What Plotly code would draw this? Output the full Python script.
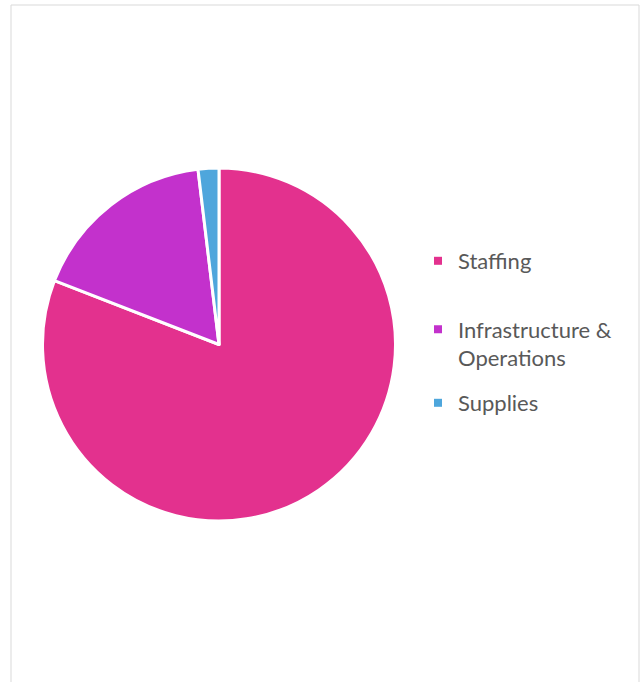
import plotly.graph_objects as go

labels = ["Staffing", "Infrastructure &<br>Operations", "Supplies"]
values = [80.9, 17.2, 1.9]
colors = ["#E3318E", "#C331CC", "#4EA6DC"]

W, H = 641, 682

fig = go.Figure()
fig.add_trace(go.Pie(
    labels=labels,
    values=values,
    marker=dict(colors=colors, line=dict(color="white", width=3)),
    sort=False,
    direction="clockwise",
    rotation=0,
    textinfo="none",
    hoverinfo="label+percent",
    showlegend=False,
    domain=dict(x=[42 / W, 396 / W], y=[1 - 521 / H, 1 - 168 / H]),
))

# legend entries (one legend per category so spacing can match the original)
legend_keys = ["legend", "legend2", "legend3"]
legend_y = [261, 344, 403]
for lab, col, lk in zip(labels, colors, legend_keys):
    fig.add_trace(go.Scatter(
        x=[None], y=[None], mode="markers", name=lab,
        marker=dict(symbol="square", size=8, color=col),
        legend=lk, showlegend=True, hoverinfo="skip",
    ))

legend_common = dict(
    xanchor="left", yanchor="middle", valign="top",
    font=dict(family="Lato, sans-serif", size=22, color="#595959"),
    bgcolor="rgba(0,0,0,0)", itemclick=False, itemdoubleclick=False,
)
layout_legends = {}
for lk, ly in zip(legend_keys, legend_y):
    layout_legends[lk] = dict(x=418 / W, y=1 - ly / H, **legend_common)

fig.update_layout(
    width=W, height=H,
    margin=dict(l=0, r=0, t=0, b=0),
    paper_bgcolor="white",
    plot_bgcolor="white",
    font=dict(family="Lato, sans-serif", size=22, color="#595959"),
    xaxis=dict(visible=False),
    yaxis=dict(visible=False),
    shapes=[dict(
        type="rect", xref="paper", yref="paper",
        x0=11 / W, x1=639 / W, y0=-0.05, y1=1 - 5 / H,
        line=dict(color="#D9D9D9", width=1),
        layer="below",
    )],
    **layout_legends,
)

fig.write_html("out.html")
